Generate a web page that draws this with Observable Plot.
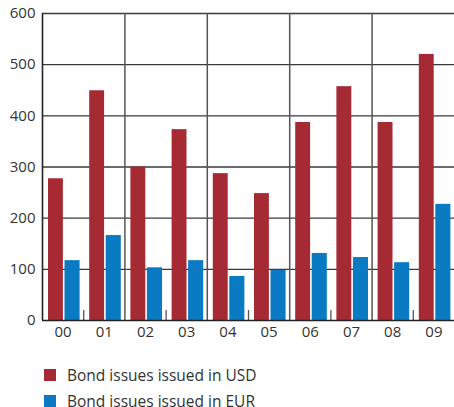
<!DOCTYPE html>
<html>
<head>
<meta charset="utf-8">
<script src="https://cdn.jsdelivr.net/npm/d3@7"></script>
<script src="https://cdn.jsdelivr.net/npm/@observablehq/plot@0.6"></script>
<style>
  html, body { margin: 0; padding: 0; background: #fff; }
  body { width: 454px; height: 407px; overflow: hidden; font-family: "Open Sans", "Noto Sans", sans-serif; }
  #chart svg { display: block; }
  #legend { margin-top: 17px; padding-left: 44px; color: #333; font-size: 15.5px; }
  .item { display: flex; align-items: center; height: 26px; line-height: 26px; }
  .sw { width: 12px; height: 12px; margin-right: 11px; flex: none; }
</style>
</head>
<body>
<div id="chart"></div>
<div id="legend"></div>
<script>
const years = ["00","01","02","03","04","05","06","07","08","09"];
const usd = [277, 449, 300, 373, 287, 248, 387, 457, 387, 520];
const eur = [117, 166, 103, 117, 86, 98, 131, 123, 113, 227];
const seriesNames = ["Bond issues issued in USD", "Bond issues issued in EUR"];
const seriesColors = ["#a62a33", "#0a7ac3"];
const yTicks = [0, 100, 200, 300, 400, 500, 600];

const data = years.map((y, i) => ({i, year: y, usd: usd[i], eur: eur[i]}));
const bounds = d3.range(1, years.length);
const gridX = bounds.filter(b => b % 2 === 0);
const smallTicks = bounds.filter(b => b % 2 === 1);

const plot = Plot.plot({
  width: 454,
  height: 345,
  marginLeft: 42,
  marginRight: 0,
  marginTop: 13,
  marginBottom: 25,
  style: {fontFamily: "'Open Sans', 'Noto Sans', sans-serif", fontSize: "15px", color: "#333", background: "#fff"},
  x: {type: "linear", domain: [0, years.length], axis: null, label: null},
  y: {domain: [0, 600], axis: null, label: null},
  marks: [
    Plot.ruleY(yTicks.filter(t => t > 0), {stroke: "#3a3a3a", strokeWidth: 1.3}),
    Plot.ruleX(gridX, {stroke: "#555", strokeWidth: 1.5}),
    Plot.ruleX(smallTicks, {stroke: "#555", strokeWidth: 1.3, insetTop: 297}),
    Plot.rectY(data, {x1: "i", x2: d => d.i + 1, y: "usd", fill: seriesColors[0], insetLeft: 6, insetRight: 20.3}),
    Plot.rectY(data, {x1: "i", x2: d => d.i + 1, y: "eur", fill: seriesColors[1], insetLeft: 22.5, insetRight: 3.6}),
    Plot.ruleY([0], {stroke: "#222", strokeWidth: 1.6}),
    Plot.ruleX([0], {stroke: "#222", strokeWidth: 1.6}),
    Plot.axisY({ticks: yTicks, tickSize: 0, tickPadding: 7, fill: "#333", fontSize: 15, label: null}),
    Plot.axisX({ticks: years.map((_, i) => i + 0.5), tickFormat: d => years[Math.floor(d)], tickSize: 0, tickPadding: 6, fill: "#333", fontSize: 15, label: null})
  ]
});
document.getElementById("chart").appendChild(plot);

const legend = document.getElementById("legend");
seriesNames.forEach((n, k) => {
  const it = document.createElement("div");
  it.className = "item";
  const sw = document.createElement("span");
  sw.className = "sw";
  sw.style.background = seriesColors[k];
  const t = document.createElement("span");
  t.textContent = n;
  it.appendChild(sw); it.appendChild(t);
  legend.appendChild(it);
});
</script>
</body>
</html>
